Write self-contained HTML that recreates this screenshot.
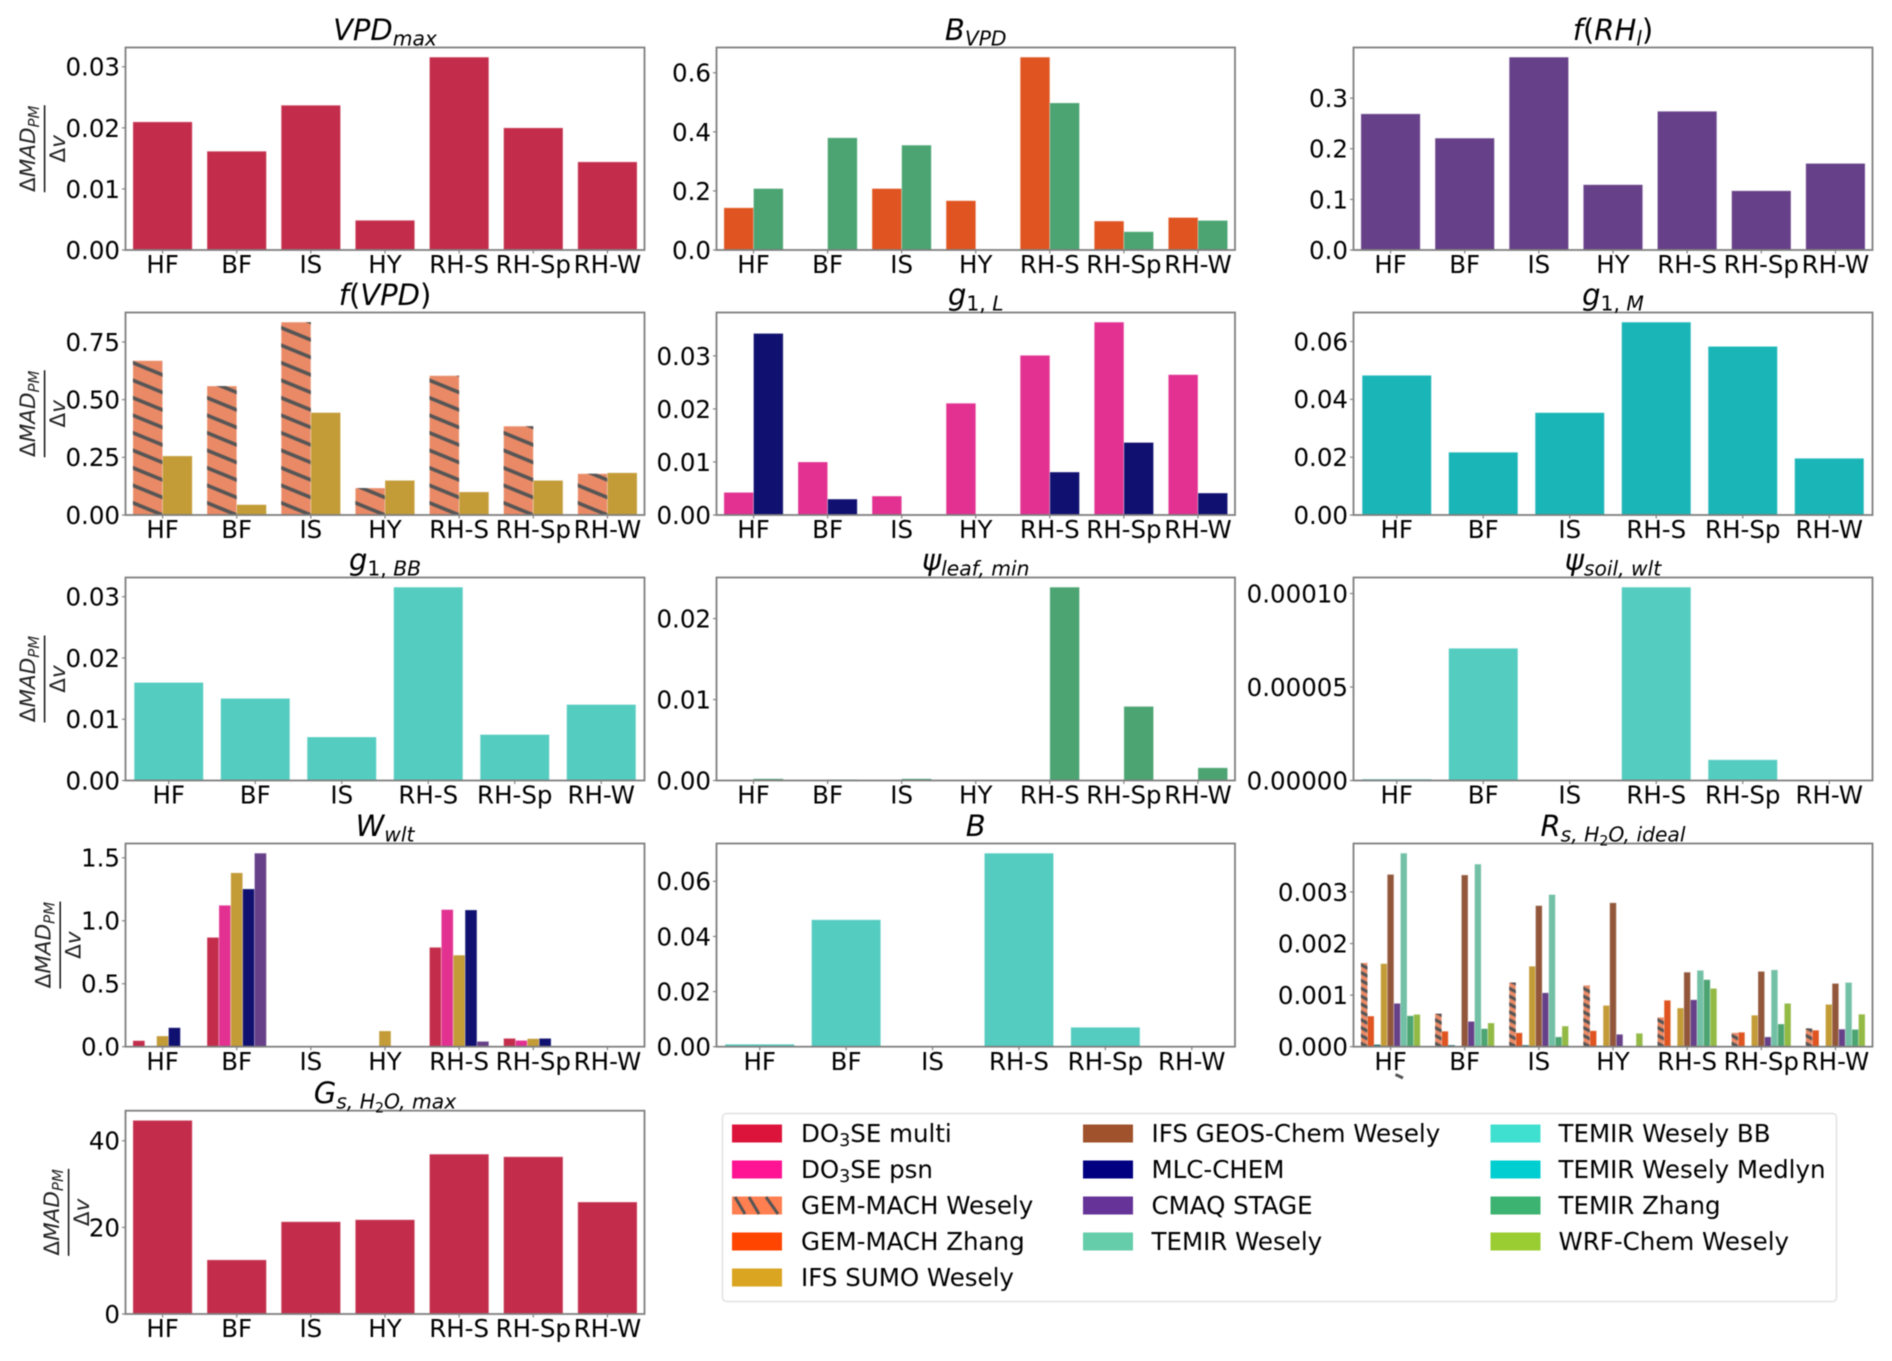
<!DOCTYPE html>
<html lang="en">
<head>
<meta charset="utf-8">
<title>Sensitivity of MAD PM by parameter</title>
<style>
html,body{margin:0;padding:0;background:#fff;width:1892px;height:1361px;overflow:hidden}
svg{display:block;font-family:"DejaVu Sans","Liberation Sans",sans-serif;filter:blur(0.45px)}
</style>
</head>
<body>
<svg id="figure" xmlns="http://www.w3.org/2000/svg" width="1892" height="1361" viewBox="0 0 1892 1361">
<rect x="0" y="0" width="1892" height="1361" fill="#ffffff"/>
<defs id="defs"></defs>
<g id="panels"></g>
<line x1="1395.5" y1="1074.5" x2="1403" y2="1078" stroke="#555555" stroke-width="3"/>
<g font-size="24.5" fill="#000">
<rect x="722.5" y="1113.5" width="1114" height="188" rx="4" fill="#fff" stroke="#e2e2e2" stroke-width="1.5"/>
<g><rect x="732" y="1124.5" width="50" height="18" fill="#DC143C"/><text x="801" y="1142">DO<tspan font-size="17.5" dy="4">3</tspan><tspan dy="-4">SE multi</tspan></text></g>
<g><rect x="732" y="1160.5" width="50" height="18" fill="#FF1493"/><text x="801" y="1178">DO<tspan font-size="17.5" dy="4">3</tspan><tspan dy="-4">SE psn</tspan></text></g>
<g><rect x="732" y="1196.5" width="50" height="18" fill="#FF7F50"/><g stroke="#555" stroke-width="3"><line x1="735" y1="1197" x2="745" y2="1214"/><line x1="749" y1="1197" x2="759" y2="1214"/><line x1="766" y1="1197" x2="778" y2="1214"/></g><text x="801" y="1214">GEM-MACH Wesely</text></g>
<g><rect x="732" y="1232.5" width="50" height="18" fill="#FF4500"/><text x="801" y="1250">GEM-MACH Zhang</text></g>
<g><rect x="732" y="1268.5" width="50" height="18" fill="#DAA520"/><text x="801" y="1286">IFS SUMO Wesely</text></g>
<g><rect x="1083" y="1124.5" width="50" height="18" fill="#A0522D"/><text x="1151.5" y="1142">IFS GEOS-Chem Wesely</text></g>
<g><rect x="1083" y="1160.5" width="50" height="18" fill="#000080"/><text x="1151.5" y="1178">MLC-CHEM</text></g>
<g><rect x="1083" y="1196.5" width="50" height="18" fill="#663399"/><text x="1151.5" y="1214">CMAQ STAGE</text></g>
<g><rect x="1083" y="1232.5" width="50" height="18" fill="#66CDAA"/><text x="1151.5" y="1250">TEMIR Wesely</text></g>
<g><rect x="1490.5" y="1124.5" width="50" height="18" fill="#40E0D0"/><text x="1558.5" y="1142">TEMIR Wesely BB</text></g>
<g><rect x="1490.5" y="1160.5" width="50" height="18" fill="#00CED1"/><text x="1558.5" y="1178">TEMIR Wesely Medlyn</text></g>
<g><rect x="1490.5" y="1196.5" width="50" height="18" fill="#3CB371"/><text x="1558.5" y="1214">TEMIR Zhang</text></g>
<g><rect x="1490.5" y="1232.5" width="50" height="18" fill="#9ACD32"/><text x="1558.5" y="1250">WRF-Chem Wesely</text></g>
</g>
</svg>
<script>
const categories7 = ['HF','BF','IS','HY','RH-S','RH-Sp','RH-W'];
const categories6 = ['HF','BF','IS','RH-S','RH-Sp','RH-W'];

const vpdMaxTicks = ['0.00','0.01','0.02','0.03'];
const vpdMaxMulti = [0.02098,0.01617,0.0237,0.00486,0.03158,0.02,0.01443];

const bVpdTicks = ['0.0','0.2','0.4','0.6'];
const bVpdGemZhang = [0.143,0,0.208,0.167,0.653,0.098,0.11];
const bVpdTemirZhang = [0.208,0.38,0.355,0,0.498,0.062,0.1];

const fRhTicks = ['0.0','0.1','0.2','0.3'];
const fRhCmaq = [0.269,0.221,0.381,0.129,0.274,0.117,0.171];

const fVpdTicks = ['0.00','0.25','0.50','0.75'];
const fVpdGemWesely = [0.669,0.559,0.836,0.117,0.604,0.385,0.179];
const fVpdSumo = [0.256,0.045,0.444,0.15,0.1,0.15,0.183];

const g1LTicks = ['0.00','0.01','0.02','0.03'];
const g1LPsn = [0.00426,0.01,0.00357,0.02107,0.0301,0.03636,0.02646];
const g1LMlc = [0.03423,0.003,0,0,0.0081,0.01367,0.00414];

const g1MTicks = ['0.00','0.02','0.04','0.06'];
const g1MMedlyn = [0.0483,0.0217,0.0354,0.0667,0.0583,0.0196];

const g1BBTicks = ['0.00','0.01','0.02','0.03'];
const g1BBTemir = [0.016,0.0134,0.0071,0.03156,0.0075,0.0124];

const psiLeafTicks = ['0.00','0.01','0.02'];
const psiLeafGemZhang = [0,0,0,0,0,0.00005,0];
const psiLeafTemirZhang = [0.0002,0.00012,0.0002,0,0.02388,0.00915,0.00157];

const psiSoilTicks = ['0.00000','0.00005','0.00010'];
const psiSoilTemir = [0.0000007,0.0000707,0,0.0001034,0.0000111,0.0000002];

const wWltTicks = ['0.0','0.5','1.0','1.5'];
const wWltMulti = [0.048,0.868,0,0,0.789,0.066,0];
const wWltPsn = [0.005,1.123,0,0,1.089,0.05,0];
const wWltSumo = [0.085,1.381,0,0.125,0.727,0.064,0];
const wWltMlc = [0.151,1.253,0,0,1.086,0.066,0];
const wWltCmaq = [0.002,1.537,0,0,0.042,0,0];

const bTicks = ['0.00','0.02','0.04','0.06'];
const bTemir = [0.00085,0.04606,0.0001,0.0702,0.00703,0.00005];

const rsTicks = ['0.000','0.001','0.002','0.003'];
const rsGemWesely = [0.001626,0.00064,0.001245,0.00119,0.00057,0.00027,0.000355];
const rsGemZhang = [0.000594,0.0003,0.00027,0.00031,0.0009,0.00028,0.00032];
const rsMinor = [0.00004,0.00003,0.00003,0.00002,0.00001,0.00001,0.00001];
const rsSumo = [0.00161,0,0.00156,0.0008,0.00075,0.00061,0.00082];
const rsGeos = [0.00334,0.00333,0.002735,0.00279,0.001445,0.00146,0.001226];
const rsCmaq = [0.00084,0.00049,0.001045,0.00024,0.00091,0.00019,0.00034];
const rsTemirWesely = [0.003752,0.00354,0.00295,0,0.00148,0.00149,0.001245];
const rsTemirZhang = [0.0006,0.00035,0.00019,0,0.0013,0.00044,0.000335];
const rsWrf = [0.000626,0.00046,0.0004,0.00026,0.00113,0.00084,0.00063];

const gsTicks = ['0','20','40'];
const gsMulti = [44.7,12.5,21.3,21.77,36.9,36.3,25.85];

const NS = 'http://www.w3.org/2000/svg';
const panelsRoot = document.getElementById('panels');
const defsRoot = document.getElementById('defs');
const tickFont = 24.5;
let hatchCount = 0;

function el(tag, attrs, parent) {
  const node = document.createElementNS(NS, tag);
  for (const k in attrs) node.setAttribute(k, attrs[k]);
  parent.appendChild(node);
  return node;
}

function hatchPattern(x, base, style) {
  hatchCount += 1;
  const id = 'hatch-' + hatchCount;
  const p = el('pattern', {id: id, patternUnits: 'userSpaceOnUse', width: 60, height: style.spacing,
    patternTransform: 'translate(' + x + ' ' + base + ') rotate(' + style.angle + ')'}, defsRoot);
  el('rect', {x: 0, y: 0, width: 60, height: style.width / 2, fill: '#555555'}, p);
  el('rect', {x: 0, y: style.spacing - style.width / 2, width: 60, height: style.width / 2, fill: '#555555'}, p);
  return id;
}

function drawTitle(parent, cx, baseline, parts) {
  const t = el('text', {x: cx, y: baseline, 'text-anchor': 'middle', fill: '#000'}, parent);
  
  
  const sizes = [29, 20.3, 14.2];
  const offs = [0, 5.5, 9.5];
  let cur = 0;
  parts.forEach(function (part) {
    const level = part[1];
    const s = el('tspan', {'font-size': sizes[level], dy: offs[level] - cur, 'font-style': part[2] ? 'italic' : 'normal'}, t);
    s.textContent = part[0];
    cur = offs[level];
  });
}

function drawYLabel(parent, lineX, cy) {
  const g = el('g', {transform: 'translate(' + lineX + ' ' + cy + ') rotate(-90)'}, parent);
  
  
  el('line', {x1: -43.5, y1: 0, x2: 43.5, y2: 0, stroke: '#111', 'stroke-width': 1.5}, g);
  const num = el('text', {x: 0, y: -9.5, 'text-anchor': 'middle', 'font-size': 21.5, fill: '#222'}, g);
  const n1 = el('tspan', {}, num);
  n1.textContent = 'Δ';
  const n2 = el('tspan', {'font-style': 'italic'}, num);
  n2.textContent = 'MAD';
  const n3 = el('tspan', {'font-style': 'italic', 'font-size': 15, dy: 4}, num);
  n3.textContent = 'PM';
  const den = el('text', {x: 0, y: 20.5, 'text-anchor': 'middle', 'font-size': 21.5, fill: '#222'}, g);
  const d1 = el('tspan', {}, den);
  d1.textContent = 'Δ';
  const d2 = el('tspan', {'font-style': 'italic'}, den);
  d2.textContent = 'v';
}

function drawPanel(o) {
  const x0 = o.left, y0 = o.top, w = o.right - o.left, h = o.bottom - o.top;
  const g = el('g', {}, panelsRoot);
  
  

  let top = 0;
  o.series.forEach(function (s) { s.values.forEach(function (v) { if (v > top) top = v; }); });
  const yMax = top * 1.05;
  const unit = w / o.categories.length;
  const xScale = function (pos) { return x0 + (pos + 0.5) * unit; };
  const yScale = function (v) { return o.bottom - v / yMax * h; };

  const barWidth = 0.8 / o.series.length;
  o.series.forEach(function (s, si) {
    s.values.forEach(function (v, ci) {
      if (v <= 0) return;
      const left = xScale(ci - 0.4 + si * barWidth);
      const right = xScale(ci - 0.4 + (si + 1) * barWidth);
      const ty = yScale(v);
      const bar = el('rect', {x: left, y: ty, width: right - left, height: o.bottom - ty, fill: s.color}, g);
      
      
      if (o.bottom - ty > 3) {
        bar.setAttribute('stroke', '#ffffff');
        bar.setAttribute('stroke-opacity', '0.3');
        bar.setAttribute('stroke-width', '1');
      }
      if (s.hatch) {
        const id = hatchPattern(right, o.bottom, s.hatch);
        const overlay = el('rect', {x: left, y: ty, width: right - left, height: o.bottom - ty, fill: 'url(#' + id + ')'}, g);
        
        
      }
    });
  });

  o.ticks.forEach(function (label) {
    const ty = yScale(parseFloat(label));
    const tick = el('line', {x1: x0 - 3.5, y1: ty, x2: x0, y2: ty, stroke: '#808080', 'stroke-width': 1.2}, g);
    
    
    const text = el('text', {x: x0 - 5.5, y: ty + 8.9, 'text-anchor': 'end', 'font-size': tickFont, fill: '#000'}, g);
    
    
    text.textContent = label;
  });

  o.categories.forEach(function (label, i) {
    const tx = xScale(i);
    const tick = el('line', {x1: tx, y1: o.bottom, x2: tx, y2: o.bottom + 3.5, stroke: '#808080', 'stroke-width': 1.2}, g);
    
    
    const text = el('text', {x: tx, y: o.bottom + 23.2, 'text-anchor': 'middle', 'font-size': tickFont, fill: '#000'}, g);
    
    
    text.textContent = label;
  });

  const frame = el('rect', {x: x0, y: y0, width: w, height: h, fill: 'none', stroke: '#7f7f7f', 'stroke-width': 1.8}, g);
  
  

  drawTitle(g, x0 + w / 2, y0 - 7.5, o.title);
  if (o.labelX) drawYLabel(g, o.labelX, y0 + h / 2);
}

const multiColor = '#C32D4B', psnColor = '#E23191', gemWColor = '#E98966', gemZColor = '#DF5420',
  sumoColor = '#C39B37', geosColor = '#92573B', mlcColor = '#101070', cmaqColor = '#664088',
  temirColor = '#72C0A5', bbColor = '#54CCC0', medlynColor = '#1AB5B7', temirZColor = '#4BA472',
  wrfColor = '#93BA45', minorColor = '#0F6A6E';

const bigHatch = {angle: 22.3, spacing: 16.2, width: 3.6};
const smallHatch = {angle: 27, spacing: 7, width: 3.2};

const colA = [125.5, 644.5], colB = [716.5, 1235], colC = [1353.5, 1872.5];

drawPanel({name: 'vpd-max', left: colA[0], right: colA[1], top: 47.5, bottom: 250, labelX: 44.6,
  categories: categories7, ticks: vpdMaxTicks,
  title: [['VPD', 0, true], ['max', 1, true]],
  series: [{key: 'do3se-multi', color: multiColor, values: vpdMaxMulti}]});

drawPanel({name: 'b-vpd', left: colB[0], right: colB[1], top: 47.5, bottom: 250,
  categories: categories7, ticks: bVpdTicks,
  title: [['B', 0, true], ['VPD', 1, true]],
  series: [{key: 'gem-mach-zhang', color: gemZColor, values: bVpdGemZhang},
           {key: 'temir-zhang', color: temirZColor, values: bVpdTemirZhang}]});

drawPanel({name: 'f-rh', left: colC[0], right: colC[1], top: 47.5, bottom: 250,
  categories: categories7, ticks: fRhTicks,
  title: [['f', 0, true], ['(', 0, false], ['RH', 0, true], ['l', 1, true], [')', 0, false]],
  series: [{key: 'cmaq-stage', color: cmaqColor, values: fRhCmaq}]});

drawPanel({name: 'f-vpd', left: colA[0], right: colA[1], top: 312.5, bottom: 515, labelX: 44.6,
  categories: categories7, ticks: fVpdTicks,
  title: [['f', 0, true], ['(', 0, false], ['VPD', 0, true], [')', 0, false]],
  series: [{key: 'gem-mach-wesely', color: gemWColor, values: fVpdGemWesely, hatch: bigHatch},
           {key: 'ifs-sumo', color: sumoColor, values: fVpdSumo}]});

drawPanel({name: 'g1-l', left: colB[0], right: colB[1], top: 312.5, bottom: 515,
  categories: categories7, ticks: g1LTicks,
  title: [['g', 0, true], ['1, ', 1, false], ['L', 1, true]],
  series: [{key: 'do3se-psn', color: psnColor, values: g1LPsn},
           {key: 'mlc-chem', color: mlcColor, values: g1LMlc}]});

drawPanel({name: 'g1-m', left: colC[0], right: colC[1], top: 312.5, bottom: 515,
  categories: categories6, ticks: g1MTicks,
  title: [['g', 0, true], ['1, ', 1, false], ['M', 1, true]],
  series: [{key: 'temir-wesely-medlyn', color: medlynColor, values: g1MMedlyn}]});

drawPanel({name: 'g1-bb', left: colA[0], right: colA[1], top: 577.5, bottom: 780.5, labelX: 44.6,
  categories: categories6, ticks: g1BBTicks,
  title: [['g', 0, true], ['1, ', 1, false], ['BB', 1, true]],
  series: [{key: 'temir-wesely-bb', color: bbColor, values: g1BBTemir}]});

drawPanel({name: 'psi-leaf-min', left: colB[0], right: colB[1], top: 577.5, bottom: 780.5,
  categories: categories7, ticks: psiLeafTicks,
  title: [['ψ', 0, true], ['leaf, min', 1, true]],
  series: [{key: 'gem-mach-zhang', color: gemZColor, values: psiLeafGemZhang},
           {key: 'temir-zhang', color: temirZColor, values: psiLeafTemirZhang}]});

drawPanel({name: 'psi-soil-wlt', left: colC[0], right: colC[1], top: 577.5, bottom: 780.5,
  categories: categories6, ticks: psiSoilTicks,
  title: [['ψ', 0, true], ['soil, wlt', 1, true]],
  series: [{key: 'temir-wesely-bb', color: bbColor, values: psiSoilTemir}]});

drawPanel({name: 'w-wlt', left: colA[0], right: colA[1], top: 843.5, bottom: 1046.7, labelX: 60.2,
  categories: categories7, ticks: wWltTicks,
  title: [['W', 0, true], ['wlt', 1, true]],
  series: [{key: 'do3se-multi', color: multiColor, values: wWltMulti},
           {key: 'do3se-psn', color: psnColor, values: wWltPsn},
           {key: 'ifs-sumo', color: sumoColor, values: wWltSumo},
           {key: 'mlc-chem', color: mlcColor, values: wWltMlc},
           {key: 'cmaq-stage', color: cmaqColor, values: wWltCmaq}]});

drawPanel({name: 'b', left: colB[0], right: colB[1], top: 843.5, bottom: 1046.7,
  categories: categories6, ticks: bTicks,
  title: [['B', 0, true]],
  series: [{key: 'temir-wesely-bb', color: bbColor, values: bTemir}]});

drawPanel({name: 'rs-h2o-ideal', left: colC[0], right: colC[1], top: 843.5, bottom: 1046.7,
  categories: categories7, ticks: rsTicks,
  title: [['R', 0, true], ['s, ', 1, true], ['H', 1, true], ['2', 2, false], ['O, ideal', 1, true]],
  series: [{key: 'gem-mach-wesely', color: gemWColor, values: rsGemWesely, hatch: smallHatch},
           {key: 'gem-mach-zhang', color: gemZColor, values: rsGemZhang},
           {key: 'minor', color: minorColor, values: rsMinor},
           {key: 'ifs-sumo', color: sumoColor, values: rsSumo},
           {key: 'ifs-geos-chem', color: geosColor, values: rsGeos},
           {key: 'cmaq-stage', color: cmaqColor, values: rsCmaq},
           {key: 'temir-wesely', color: temirColor, values: rsTemirWesely},
           {key: 'temir-zhang', color: temirZColor, values: rsTemirZhang},
           {key: 'wrf-chem', color: wrfColor, values: rsWrf}]});

drawPanel({name: 'gs-h2o-max', left: colA[0], right: colA[1], top: 1110.7, bottom: 1314, labelX: 68.6,
  categories: categories7, ticks: gsTicks,
  title: [['G', 0, true], ['s, ', 1, true], ['H', 1, true], ['2', 2, false], ['O, max', 1, true]],
  series: [{key: 'do3se-multi', color: multiColor, values: gsMulti}]});
</script>
</body>
</html>
